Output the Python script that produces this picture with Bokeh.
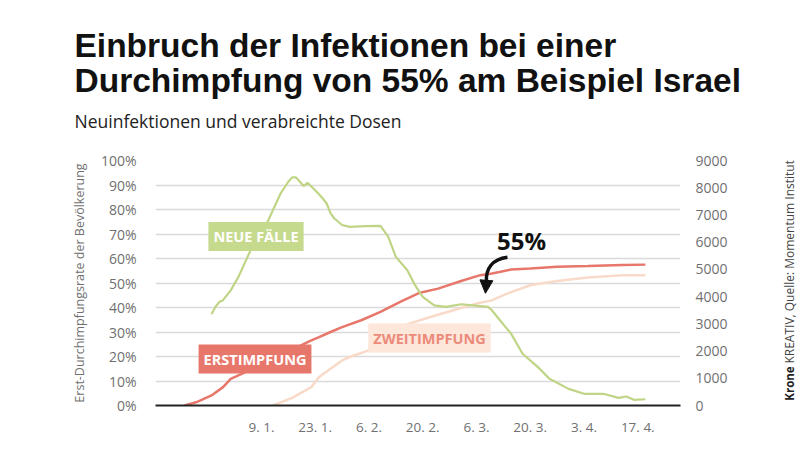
import pandas as pd
from bokeh.plotting import figure
from bokeh.layouts import column, row
from bokeh.models import (Range1d, LinearAxis, FixedTicker, CustomJSTickFormatter,
                          PrintfTickFormatter, Label, Arrow, NormalHead)
from bokeh.core.properties import value
from bokeh.embed import file_html
from bokeh.resources import INLINE

# ---------------- data ----------------
cases_dates = ["2020-12-27", "2020-12-28", "2020-12-29", "2020-12-30", "2021-01-01", "2021-01-03",
               "2021-01-05", "2021-01-07", "2021-01-10", "2021-01-12", "2021-01-14", "2021-01-16",
               "2021-01-17", "2021-01-18", "2021-01-20", "2021-01-21", "2021-01-23", "2021-01-25",
               "2021-01-26", "2021-01-27", "2021-01-28", "2021-01-30", "2021-02-01", "2021-02-05",
               "2021-02-09", "2021-02-11", "2021-02-13", "2021-02-16", "2021-02-18", "2021-02-20",
               "2021-02-23", "2021-02-26", "2021-03-02", "2021-03-05", "2021-03-09", "2021-03-10",
               "2021-03-12", "2021-03-15", "2021-03-18", "2021-03-22", "2021-03-25", "2021-03-30",
               "2021-04-03", "2021-04-08", "2021-04-12", "2021-04-14", "2021-04-16", "2021-04-19"]
cases_values = [3350, 3620, 3800, 3870, 4230, 4720, 5340, 5950, 6560, 7180, 7790, 8220,
                8380, 8380, 8060, 8180, 7910, 7600, 7420, 7060, 6870, 6630, 6560, 6590,
                6600, 6200, 5460, 4970, 4420, 3990, 3680, 3620, 3720, 3680, 3620, 3500,
                3150, 2640, 1900, 1410, 980, 610, 430, 430, 280, 330, 210, 230]

first_dates = ["2020-12-20", "2020-12-23", "2020-12-27", "2020-12-30", "2021-01-01", "2021-01-04",
               "2021-01-22", "2021-01-24", "2021-01-27", "2021-01-30", "2021-02-04", "2021-02-09",
               "2021-02-14", "2021-02-19", "2021-02-24", "2021-03-02", "2021-03-07", "2021-03-10",
               "2021-03-12", "2021-03-15", "2021-03-20", "2021-03-27", "2021-04-04", "2021-04-13",
               "2021-04-19"]
first_values = [0, 1.3, 4.1, 7.5, 10.9, 13.0, 26.6, 27.9, 30.0, 32.0, 34.8, 38.2,
                42.2, 45.9, 47.7, 50.8, 53.2, 53.9, 54.5, 55.5, 55.9, 56.6, 56.9, 57.3, 57.5]

second_dates = ["2021-01-12", "2021-01-17", "2021-01-22", "2021-01-24", "2021-01-27", "2021-01-30",
                "2021-02-02", "2021-02-06", "2021-02-15", "2021-02-22", "2021-02-28", "2021-03-06",
                "2021-03-10", "2021-03-12", "2021-03-15", "2021-03-20", "2021-03-27", "2021-04-04",
                "2021-04-13", "2021-04-19"]
second_values = [0, 3.1, 7.5, 11.6, 15.0, 18.4, 20.4, 22.5, 32.7, 36.1, 38.9, 41.6,
                 42.9, 44.3, 46.3, 49.1, 50.8, 52.2, 53.2, 53.2]

tick_dates = ["2021-01-09", "2021-01-23", "2021-02-06", "2021-02-20",
              "2021-03-06", "2021-03-20", "2021-04-03", "2021-04-17"]
tick_labels = ["9. 1.", "23. 1.", "6. 2.", "20. 2.", "6. 3.", "20. 3.", "3. 4.", "17. 4."]
pct_ticks = list(range(0, 101, 10))
case_ticks = list(range(0, 9001, 1000))

title_lines = ["Einbruch der Infektionen bei einer", "Durchimpfung von 55% am Beispiel Israel"]
subtitle = "Neuinfektionen und verabreichte Dosen"
source_bold = "Krone"
source_rest = "KREATIV, Quelle: Momentum Institut"


def ms(s):
    return pd.Timestamp(s).value / 1e6


FONT = "Open Sans"
GRAY = "#707070"
TITLE_FONT = "Liberation Sans"


def blank(w, h, xr, yr):
    f = figure(width=w, height=h, output_backend="svg", toolbar_location=None,
               x_range=Range1d(*xr), y_range=Range1d(*yr),
               x_axis_location=None, y_axis_location=None,
               min_border=0, min_border_left=0, min_border_right=0,
               min_border_top=0, min_border_bottom=0)
    f.grid.visible = False
    f.outline_line_color = None
    return f


# ---------------- title panel (pixel coordinates, y downwards) ----------------
head = blank(800, 148, (0, 800), (148, 0))
head.text(x=[74, 74], y=[45, 80], text=title_lines, text_font=value(TITLE_FONT),
          text_font_style="bold", text_font_size="33.5px", text_color="#111111",
          text_baseline="middle")
head.text(x=[74], y=[120], text=[subtitle], text_font=value(FONT),
          text_font_size="17.5px", text_color="#222222", text_baseline="middle")

# ---------------- main chart ----------------
p = figure(width=770, height=304, x_axis_type="datetime", output_backend="svg",
           toolbar_location=None,
           x_range=Range1d(ms("2020-12-12 10:00"), ms("2021-04-28 03:00")),
           y_range=Range1d(0, 100),
           min_border_left=155, min_border_right=90, min_border_top=12, min_border_bottom=47)
p.extra_y_ranges = {"cases": Range1d(0, 9000)}
p.outline_line_color = None

p.xgrid.visible = False
p.ygrid.ticker = FixedTicker(ticks=pct_ticks)
p.ygrid.grid_line_color = "#dadada"
p.ygrid.grid_line_width = 1.5

ya = p.yaxis[0]
ya.ticker = FixedTicker(ticks=pct_ticks)
ya.formatter = PrintfTickFormatter(format="%d%%")
ya.axis_line_color = None
ya.major_tick_line_color = None
ya.minor_tick_line_color = None
ya.major_label_text_color = GRAY
ya.major_label_text_font = FONT
ya.major_label_text_font_size = "14px"
ya.major_label_standoff = 13
ya.axis_label = "Erst-Durchimpfungsrate der Bevölkerung"
ya.axis_label_text_font = FONT
ya.axis_label_text_font_size = "12.5px"
ya.axis_label_text_font_style = "normal"
ya.axis_label_text_color = GRAY
ya.axis_label_standoff = 10

ra = LinearAxis(y_range_name="cases", ticker=FixedTicker(ticks=case_ticks))
ra.axis_line_color = None
ra.major_tick_line_color = None
ra.minor_tick_line_color = None
ra.major_label_text_color = GRAY
ra.major_label_text_font = FONT
ra.major_label_text_font_size = "14px"
ra.major_label_standoff = 9
p.add_layout(ra, "right")

xa = p.xaxis[0]
xa.ticker = FixedTicker(ticks=[ms(d) for d in tick_dates])
xa.formatter = CustomJSTickFormatter(
    args=dict(tvals=[ms(d) for d in tick_dates], tlabels=tick_labels),
    code="const i = tvals.indexOf(tick); return i >= 0 ? tlabels[i] : '';")
xa.axis_line_color = "#222222"
xa.axis_line_width = 2
xa.major_tick_line_color = None
xa.minor_tick_line_color = None
xa.major_label_text_color = GRAY
xa.major_label_text_font = FONT
xa.major_label_text_font_size = "13.5px"
xa.major_label_standoff = 6

p.line([ms(d) for d in second_dates], second_values, line_color="#f9dac8", line_width=2.5)
p.line([ms(d) for d in first_dates], first_values, line_color="#e8776b", line_width=2.5)
p.line([ms(d) for d in cases_dates], cases_values, y_range_name="cases",
       line_color="#bfd585", line_width=2.2)

# arrow pointing at the 55% crossing
p.bezier(x0=[ms("2021-03-14 01:30")], y0=[60.5], x1=[ms("2021-03-08 14:00")], y1=[50.3],
         cx0=[ms("2021-03-10 04:00")], cy0=[59.7], cx1=[ms("2021-03-08 08:00")], cy1=[56.0],
         line_color="#111111", line_width=3.5)
p.add_layout(Arrow(end=NormalHead(size=13, fill_color="#111111", line_color="#111111"),
                   x_start=ms("2021-03-08 14:00"), y_start=51.0,
                   x_end=ms("2021-03-08 08:00"), y_end=45.8,
                   line_color="#111111", line_width=3))


def tag(text, sx, sy, bg, fg):
    p.add_layout(Label(x=sx, y=sy, x_units="screen", y_units="screen", text=text,
                       text_align="center", text_baseline="middle",
                       text_font=FONT, text_font_style="bold", text_font_size="14.5px",
                       text_color=fg, background_fill_color=bg, padding=5))


tag("NEUE FÄLLE", 100.5, 169, "#c6da8e", "white")
tag("ERSTIMPFUNG", 99.5, 46.5, "#e8776b", "white")
tag("ZWEITIMPFUNG", 274, 67.5, "#fde6da", "#ec8b7a")

p.add_layout(Label(x=366, y=165, x_units="screen", y_units="screen", text="55%",
                   text_align="center", text_baseline="middle", text_font=FONT,
                   text_font_style="bold", text_font_size="24px", text_color="#111111"))

# ---------------- source panel (vertical, pixel coordinates, y downwards) ----------------
side = blank(30, 304, (0, 30), (452, 148))
side.text(x=[19], y=[446], text=[source_bold], angle=90, angle_units="deg",
          text_font=value(FONT), text_font_style="bold", text_font_size="11.5px",
          text_color="#222222", text_baseline="middle", text_align="left")
side.text(x=[19], y=[400], text=[source_rest], angle=90, angle_units="deg",
          text_font=value(FONT), text_font_size="12px",
          text_color="#444444", text_baseline="middle", text_align="left")

layout = column(head, row(p, side, spacing=0), spacing=0)
open("out.html", "w").write(file_html(layout, INLINE))
